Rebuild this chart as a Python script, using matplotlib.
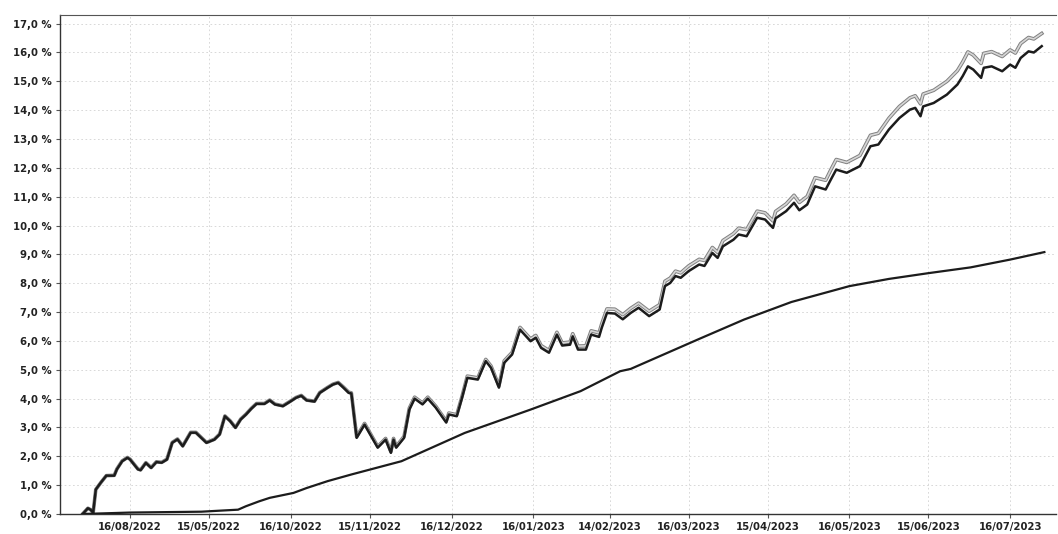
import matplotlib
matplotlib.use("Agg")
import matplotlib.pyplot as plt
import matplotlib.patheffects as pe
import pandas as pd

# portfolio (dark) and reference (light) cumulative return, in %
main_dates = [
    "2022-07-29", "2022-07-31", "2022-08-01", "2022-08-02", "2022-08-03", "2022-08-05",
    "2022-08-07", "2022-08-10", "2022-08-11", "2022-08-13", "2022-08-15", "2022-08-16",
    "2022-08-19", "2022-08-20", "2022-08-22", "2022-08-24", "2022-08-26", "2022-08-28",
    "2022-08-30", "2022-09-01", "2022-09-03", "2022-09-05", "2022-09-08", "2022-09-10",
    "2022-09-14", "2022-09-17", "2022-09-19", "2022-09-21", "2022-09-23", "2022-09-25",
    "2022-09-27", "2022-09-29", "2022-10-01", "2022-10-03", "2022-10-06", "2022-10-08",
    "2022-10-10", "2022-10-13", "2022-10-16", "2022-10-18", "2022-10-20", "2022-10-22",
    "2022-10-25", "2022-10-27", "2022-10-30", "2022-11-01", "2022-11-03", "2022-11-05",
    "2022-11-07", "2022-11-08", "2022-11-10", "2022-11-13", "2022-11-18", "2022-11-21",
    "2022-11-23", "2022-11-24", "2022-11-25", "2022-11-28", "2022-11-30", "2022-12-02",
    "2022-12-05", "2022-12-07", "2022-12-10", "2022-12-14", "2022-12-15", "2022-12-18",
    "2022-12-20", "2022-12-22", "2022-12-26", "2022-12-29", "2022-12-31", "2023-01-03",
    "2023-01-05", "2023-01-08", "2023-01-11", "2023-01-15", "2023-01-17", "2023-01-19",
    "2023-01-22", "2023-01-25", "2023-01-27", "2023-01-30", "2023-01-31", "2023-02-02",
    "2023-02-05", "2023-02-07", "2023-02-10", "2023-02-11", "2023-02-13", "2023-02-16",
    "2023-02-19", "2023-02-22", "2023-02-25", "2023-03-01", "2023-03-05", "2023-03-07",
    "2023-03-09", "2023-03-11", "2023-03-13", "2023-03-16", "2023-03-20", "2023-03-22",
    "2023-03-25", "2023-03-27", "2023-03-29", "2023-04-02", "2023-04-04", "2023-04-07",
    "2023-04-11", "2023-04-14", "2023-04-17", "2023-04-18", "2023-04-22", "2023-04-25",
    "2023-04-27", "2023-04-30", "2023-05-03", "2023-05-07", "2023-05-09", "2023-05-11",
    "2023-05-15", "2023-05-20", "2023-05-24", "2023-05-27", "2023-05-31", "2023-06-04",
    "2023-06-08", "2023-06-10", "2023-06-12", "2023-06-13", "2023-06-17", "2023-06-22",
    "2023-06-26", "2023-06-28", "2023-06-30", "2023-07-02", "2023-07-05", "2023-07-06",
    "2023-07-09", "2023-07-13", "2023-07-16", "2023-07-18", "2023-07-20", "2023-07-23",
    "2023-07-25", "2023-07-28",
]
portfolio = [
    0.00, 0.20, 0.15, 0.05, 0.85, 1.10,
    1.33, 1.33, 1.55, 1.83, 1.95, 1.89,
    1.55, 1.52, 1.77, 1.60, 1.80, 1.78,
    1.89, 2.47, 2.59, 2.35, 2.82, 2.82,
    2.47, 2.58, 2.76, 3.39, 3.22, 2.99,
    3.28, 3.45, 3.65, 3.82, 3.82, 3.94,
    3.80, 3.74, 3.91, 4.03, 4.10, 3.94,
    3.90, 4.20, 4.38, 4.49, 4.55, 4.38,
    4.20, 4.18, 2.64, 3.10, 2.30, 2.58,
    2.12, 2.58, 2.30, 2.64, 3.62, 4.00,
    3.80, 4.00, 3.69, 3.17, 3.45, 3.39,
    4.03, 4.72, 4.66, 5.30, 5.07, 4.38,
    5.24, 5.53, 6.39, 5.99, 6.11, 5.76,
    5.59, 6.22, 5.84, 5.87, 6.16, 5.70,
    5.70, 6.22, 6.14, 6.45, 6.97, 6.95,
    6.75, 6.97, 7.15, 6.86, 7.09, 7.90,
    8.01, 8.25, 8.19, 8.42, 8.65, 8.60,
    9.05, 8.88, 9.28, 9.51, 9.69, 9.63,
    10.27, 10.21, 9.92, 10.25, 10.50, 10.79,
    10.53, 10.73, 11.36, 11.25, 11.60, 11.94,
    11.83, 12.06, 12.75, 12.81, 13.33, 13.73,
    14.02, 14.08, 13.79, 14.13, 14.25, 14.54,
    14.89, 15.18, 15.52, 15.41, 15.12, 15.47,
    15.52, 15.35, 15.58, 15.47, 15.81, 16.04,
    16.00, 16.22,
]
reference = [
    0.00, 0.20, 0.15, 0.05, 0.85, 1.10,
    1.33, 1.34, 1.56, 1.84, 1.96, 1.90,
    1.56, 1.53, 1.78, 1.61, 1.81, 1.79,
    1.90, 2.48, 2.60, 2.36, 2.83, 2.83,
    2.48, 2.59, 2.77, 3.40, 3.23, 3.00,
    3.29, 3.46, 3.66, 3.83, 3.83, 3.95,
    3.81, 3.75, 3.92, 4.04, 4.11, 3.95,
    3.91, 4.21, 4.39, 4.50, 4.56, 4.40,
    4.22, 4.20, 2.68, 3.14, 2.34, 2.62,
    2.16, 2.62, 2.34, 2.69, 3.67, 4.05,
    3.85, 4.05, 3.74, 3.22, 3.50, 3.44,
    4.08, 4.78, 4.72, 5.36, 5.13, 4.44,
    5.31, 5.60, 6.47, 6.07, 6.19, 5.84,
    5.67, 6.30, 5.93, 5.96, 6.25, 5.82,
    5.83, 6.35, 6.28, 6.59, 7.11, 7.10,
    6.91, 7.13, 7.31, 7.03, 7.26, 8.07,
    8.18, 8.42, 8.36, 8.60, 8.83, 8.79,
    9.24, 9.07, 9.48, 9.72, 9.91, 9.86,
    10.50, 10.44, 10.16, 10.49, 10.75, 11.05,
    10.80, 11.01, 11.66, 11.57, 11.94, 12.29,
    12.19, 12.43, 13.13, 13.20, 13.72, 14.13,
    14.43, 14.50, 14.22, 14.56, 14.69, 15.00,
    15.37, 15.67, 16.02, 15.91, 15.62, 15.97,
    16.03, 15.86, 16.09, 15.98, 16.31, 16.52,
    16.47, 16.66,
]

# lower smooth curve, in %
lower_dates = [
    "2022-07-29", "2022-08-16", "2022-09-12", "2022-09-26", "2022-09-29", "2022-10-04",
    "2022-10-08", "2022-10-17", "2022-10-22", "2022-10-30", "2022-11-08", "2022-11-27",
    "2022-12-21", "2023-01-15", "2023-02-03", "2023-02-18", "2023-02-22", "2023-03-20",
    "2023-04-06", "2023-04-24", "2023-05-16", "2023-05-31", "2023-06-15", "2023-07-01",
    "2023-07-16", "2023-07-29",
]
lower = [
    0.00, 0.05, 0.08, 0.15, 0.27, 0.44,
    0.56, 0.73, 0.90, 1.14, 1.37, 1.83,
    2.81, 3.62, 4.26, 4.95, 5.03, 6.07,
    6.74, 7.35, 7.90, 8.15, 8.35, 8.55,
    8.82, 9.08,
]

tick_dates = ["2022-08-16", "2022-09-15", "2022-10-16", "2022-11-15", "2022-12-16",
              "2023-01-16", "2023-02-14", "2023-03-16", "2023-04-15", "2023-05-16",
              "2023-06-15", "2023-07-16"]
tick_labels = ["16/08/2022", "15/05/2022", "16/10/2022", "15/11/2022", "16/12/2022",
               "16/01/2023", "14/02/2023", "16/03/2023", "15/04/2023", "16/05/2023",
               "15/06/2023", "16/07/2023"]
y_ticks = list(range(0, 18))

fig = plt.figure(figsize=(10.58, 5.34), dpi=100)
ax = fig.add_axes([60 / 1058, 1 - 514 / 534, 996 / 1058, 499 / 534])

md = pd.to_datetime(main_dates)
ld = pd.to_datetime(lower_dates)

ax.plot(md, reference, color="#d6d6d6", lw=1.2, zorder=3,
        path_effects=[pe.Stroke(linewidth=2.6, foreground="#808080"), pe.Normal()])
ax.plot(md, portfolio, color="#1c1c1c", lw=1.8, zorder=4)
ax.plot(ld, lower, color="#1c1c1c", lw=1.6, zorder=4)

ax.set_xlim(pd.Timestamp("2022-07-20 10:00"), pd.Timestamp("2023-08-02 10:00"))
ax.set_ylim(0, 17.3)

ax.set_yticks(y_ticks)
ax.set_yticklabels([f"{v},0 %" for v in y_ticks])
ax.set_xticks(pd.to_datetime(tick_dates))
ax.set_xticklabels(tick_labels)

for lab in ax.get_xticklabels() + ax.get_yticklabels():
    lab.set_fontweight("bold")
    lab.set_fontsize(7.3)
    lab.set_color("#222222")

ax.tick_params(axis="both", direction="out", length=3, width=0.8, color="#555555")
ax.tick_params(axis="x", pad=3)
ax.tick_params(axis="y", pad=3)

ax.grid(True, color="#d2d2d2", linestyle=(0, (2, 3)), linewidth=0.6)
ax.set_axisbelow(True)

ax.spines["left"].set_color("#333333")
ax.spines["bottom"].set_color("#333333")
ax.spines["left"].set_linewidth(1.0)
ax.spines["bottom"].set_linewidth(1.0)
ax.spines["top"].set_color("#555555")
ax.spines["top"].set_linewidth(0.8)
ax.spines["right"].set_visible(False)

fig.savefig("out.png", dpi=100)
